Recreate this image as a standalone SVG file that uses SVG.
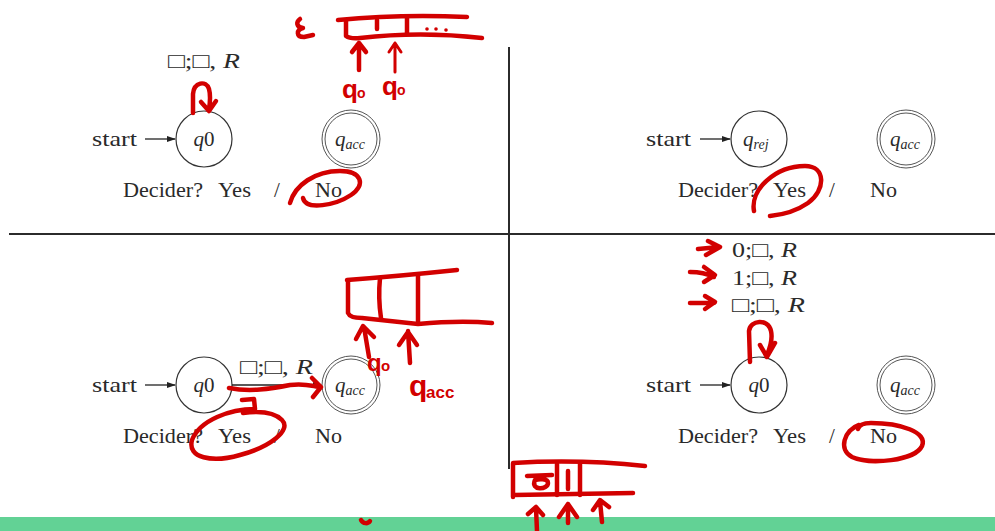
<svg xmlns="http://www.w3.org/2000/svg" width="995" height="531" viewBox="0 0 995 531">
<defs>
<style>
.t{font-family:"Liberation Serif","DejaVu Serif",serif;font-size:21px;fill:#2a2a2a}
.it{font-style:italic}
.sub{font-size:14px;font-style:italic}
.st{fill:none;stroke:#333;stroke-width:1.2}
.dbl{fill:none;stroke:#555;stroke-width:1}
.ink{fill:none;stroke:#d20000;stroke-width:4.5;stroke-linecap:round;stroke-linejoin:round}
.hw{font-family:"Liberation Sans",sans-serif;font-weight:bold;fill:#d20000}
.rule{stroke:#2b2b2b;stroke-width:2}
</style>
<marker id="ah" viewBox="0 0 10 10" refX="9" refY="5" markerWidth="7" markerHeight="7" orient="auto">
<path d="M0,1.5 L10,5 L0,8.5 Z" fill="#222"/>
</marker>
</defs>
<rect width="995" height="531" fill="#fff"/>
<rect x="0" y="517" width="995" height="14" fill="#62d295"/>
<g id="rules">
<line class="rule" x1="509" y1="47" x2="509" y2="469"/>
<line class="rule" x1="9" y1="234" x2="995" y2="234"/>
</g>

<!-- top-left quadrant -->
<g id="tl-start"><text class="t" x="92" y="146" textLength="45" lengthAdjust="spacingAndGlyphs">start</text></g>
<g id="tl-q0"><circle class="st" cx="204" cy="139" r="28"/><text class="t" x="204" y="146" text-anchor="middle"><tspan class="it">q</tspan>0</text></g>
<g id="tl-qacc"><circle class="dbl" cx="351" cy="139" r="29"/><circle class="dbl" cx="351" cy="139" r="26"/><text class="t" x="335" y="146"><tspan class="it">q</tspan><tspan class="sub" dy="3">acc</tspan></text></g>
<g id="tl-label"><text class="t" x="168" y="68" textLength="72" lengthAdjust="spacingAndGlyphs">□;□, <tspan class="it">R</tspan></text></g>
<g id="tl-decider"><text class="t" x="123" y="197" textLength="80" lengthAdjust="spacingAndGlyphs">Decider?</text><text class="t" x="218" y="197" textLength="33" lengthAdjust="spacingAndGlyphs">Yes</text><text class="t" x="274" y="197">/</text><text class="t" x="315" y="197" textLength="27" lengthAdjust="spacingAndGlyphs">No</text></g>

<!-- top-right quadrant -->
<g id="tr-start"><text class="t" x="646" y="146" textLength="45" lengthAdjust="spacingAndGlyphs">start</text></g>
<g id="tr-qrej"><circle class="st" cx="759" cy="139" r="28"/><text class="t" x="743" y="146"><tspan class="it">q</tspan><tspan class="sub" dy="3">rej</tspan></text></g>
<g id="tr-qacc"><circle class="dbl" cx="906" cy="139" r="29"/><circle class="dbl" cx="906" cy="139" r="26"/><text class="t" x="890" y="146"><tspan class="it">q</tspan><tspan class="sub" dy="3">acc</tspan></text></g>
<g id="tr-decider"><text class="t" x="678" y="197" textLength="80" lengthAdjust="spacingAndGlyphs">Decider?</text><text class="t" x="773" y="197" textLength="33" lengthAdjust="spacingAndGlyphs">Yes</text><text class="t" x="829" y="197">/</text><text class="t" x="870" y="197" textLength="27" lengthAdjust="spacingAndGlyphs">No</text></g>

<!-- bottom-left quadrant -->
<g id="bl-start"><text class="t" x="92" y="392" textLength="45" lengthAdjust="spacingAndGlyphs">start</text></g>
<g id="bl-q0"><circle class="st" cx="204" cy="385" r="28"/><text class="t" x="204" y="392" text-anchor="middle"><tspan class="it">q</tspan>0</text></g>
<g id="bl-qacc"><circle class="dbl" cx="351" cy="385" r="29"/><circle class="dbl" cx="351" cy="385" r="26"/><text class="t" x="335" y="392"><tspan class="it">q</tspan><tspan class="sub" dy="3">acc</tspan></text></g>
<g id="bl-label"><text class="t" x="240" y="374" textLength="73" lengthAdjust="spacingAndGlyphs">□;□, <tspan class="it">R</tspan></text></g>
<g id="bl-decider"><text class="t" x="123" y="443" textLength="80" lengthAdjust="spacingAndGlyphs">Decider?</text><text class="t" x="218" y="443" textLength="33" lengthAdjust="spacingAndGlyphs">Yes</text><text class="t" x="274" y="443">/</text><text class="t" x="315" y="443" textLength="27" lengthAdjust="spacingAndGlyphs">No</text></g>

<!-- bottom-right quadrant -->
<g id="br-start"><text class="t" x="646" y="392" textLength="45" lengthAdjust="spacingAndGlyphs">start</text></g>
<g id="br-q0"><circle class="st" cx="759" cy="385" r="28"/><text class="t" x="759" y="392" text-anchor="middle"><tspan class="it">q</tspan>0</text></g>
<g id="br-qacc"><circle class="dbl" cx="906" cy="385" r="29"/><circle class="dbl" cx="906" cy="385" r="26"/><text class="t" x="890" y="392"><tspan class="it">q</tspan><tspan class="sub" dy="3">acc</tspan></text></g>
<g id="br-labels"><text class="t" x="732" y="257" textLength="65" lengthAdjust="spacingAndGlyphs">0;□, <tspan class="it">R</tspan></text><text class="t" x="732" y="285" textLength="65" lengthAdjust="spacingAndGlyphs">1;□, <tspan class="it">R</tspan></text><text class="t" x="732" y="312" textLength="73" lengthAdjust="spacingAndGlyphs">□;□, <tspan class="it">R</tspan></text></g>
<g id="br-decider"><text class="t" x="678" y="443" textLength="80" lengthAdjust="spacingAndGlyphs">Decider?</text><text class="t" x="773" y="443" textLength="33" lengthAdjust="spacingAndGlyphs">Yes</text><text class="t" x="829" y="443">/</text><text class="t" x="870" y="443" textLength="27" lengthAdjust="spacingAndGlyphs">No</text></g>

<!-- connectors -->
<g id="connectors" stroke="#222" stroke-width="1.3" fill="none">
<line x1="145" y1="139" x2="175" y2="139" marker-end="url(#ah)"/>
<line x1="700" y1="139" x2="730" y2="139" marker-end="url(#ah)"/>
<line x1="145" y1="385" x2="175" y2="385" marker-end="url(#ah)"/>
<line x1="700" y1="385" x2="730" y2="385" marker-end="url(#ah)"/>
<line x1="232" y1="385" x2="321" y2="385" marker-end="url(#ah)"/>
</g>

<!-- red handwritten annotations -->
<g id="annotations">
<!-- top-left tape -->
<path class="ink" d="M300,19 C296,22 296,27 303,28 C296,30 296,37 304,37 L313,35"/>
<path class="ink" d="M338,20 Q400,14 467,17"/>
<path class="ink" d="M346,21 L346,36 Q350,39 360,38 Q420,31 482,38"/>
<path class="ink" d="M377,20 L377,29 M407,18 L407,34"/>
<circle cx="427" cy="29" r="1.8" fill="#d20000"/><circle cx="436" cy="29" r="1.8" fill="#d20000"/><circle cx="446" cy="30" r="1.8" fill="#d20000"/>
<path class="ink" d="M359,70 L359,43 M352,52 L359,43 L366,52"/>
<path class="ink" style="stroke-width:3" d="M395,72 L395,43 M389,52 L395,43 L401,52"/>
<text class="hw" x="342" y="98" font-size="26">q</text><text class="hw" x="357" y="98" font-size="14">o</text>
<text class="hw" x="382" y="95" font-size="26">q</text><text class="hw" x="397" y="95" font-size="14">o</text>
<!-- top-left loop and No circle -->
<path class="ink" d="M193,113 L193,94 C194,82 206,80 209,89 C211,96 210,103 209,110 M201,102 L209,111 L216,101"/>
<path class="ink" d="M290,203 C295,185 315,171 340,171 C362,171 366,185 351,195 C336,205 306,211 303,198"/>
<!-- top-right Yes circle -->
<path class="ink" d="M754,211 C750,190 775,166 805,166 C826,166 826,190 808,203 C795,212 780,215 770,216"/>
<!-- bottom-left tape -->
<path class="ink" d="M347,280 Q400,276 457,270"/>
<path class="ink" d="M348,281 L348,313 Q350,318 362,318 Q400,322 418,324 Q460,320 492,323"/>
<path class="ink" d="M380,278 Q378,298 381,318 M418,275 L418,323"/>
<path class="ink" d="M369,357 L364,327 M356,339 L363,326 L374,337"/>
<path class="ink" d="M410,363 L408,331 M399,345 L408,332 L417,345"/>
<text class="hw" x="367" y="371" font-size="24">q</text><text class="hw" x="381" y="371" font-size="15">o</text>
<text class="hw" x="409" y="396" font-size="30">q</text><text class="hw" x="426" y="398" font-size="17">acc</text>
<!-- bottom-left arrow q0 -> qacc -->
<path class="ink" d="M229,388 C250,392 270,389 290,385 C305,383 312,386 320,387 M312,378 L321,387 L313,397"/>
<!-- bottom-left Yes circle -->
<path class="ink" d="M242,400 L254,399 L255,409 C230,409 200,420 192,440 C187,458 212,463 240,455 C270,447 292,430 282,420 C274,412 258,411 243,413"/>
<!-- bottom-right arrows and loop -->
<path class="ink" d="M698,249 L719,247 M708,241 L720,247 L706,255"/>
<path class="ink" d="M690,272 C700,272 708,274 714,277 M704,267 L715,275 L704,282"/>
<path class="ink" d="M690,303 L714,303 M705,296 L715,302 L705,309"/>
<path class="ink" d="M750,362 L749,331 C750,320 768,318 771,331 C773,340 770,348 767,355 M760,345 L767,357 L775,343"/>
<path class="ink" d="M859,425 C844,430 838,450 852,457 C870,465 915,461 922,446 C928,432 900,423 871,423 C863,423 859,425 858,429"/>
<!-- bottom tape -->
<path class="ink" d="M513,463 Q580,459 645,466"/>
<path class="ink" d="M513,464 L513,497 M514,495 Q570,494 633,493"/>
<path class="ink" d="M557,464 L557,495 M580,464 L580,495"/>
<path class="ink" d="M527,476 L552,475 M535,480 C530,491 548,490 548,483 C548,478 538,479 535,480"/>
<path class="ink" d="M568,471 L568,489"/>
<path class="ink" d="M537,531 L536,508 M528,514 L536,507 L543,515"/>
<path class="ink" d="M568,523 L568,504 M559,517 L568,504 L577,517"/>
<path class="ink" d="M602,522 L600,501 M593,510 L600,500 L609,507"/>
<path class="ink" d="M361,520 C363,524 368,524 370,521"/>
</g>
</svg>
